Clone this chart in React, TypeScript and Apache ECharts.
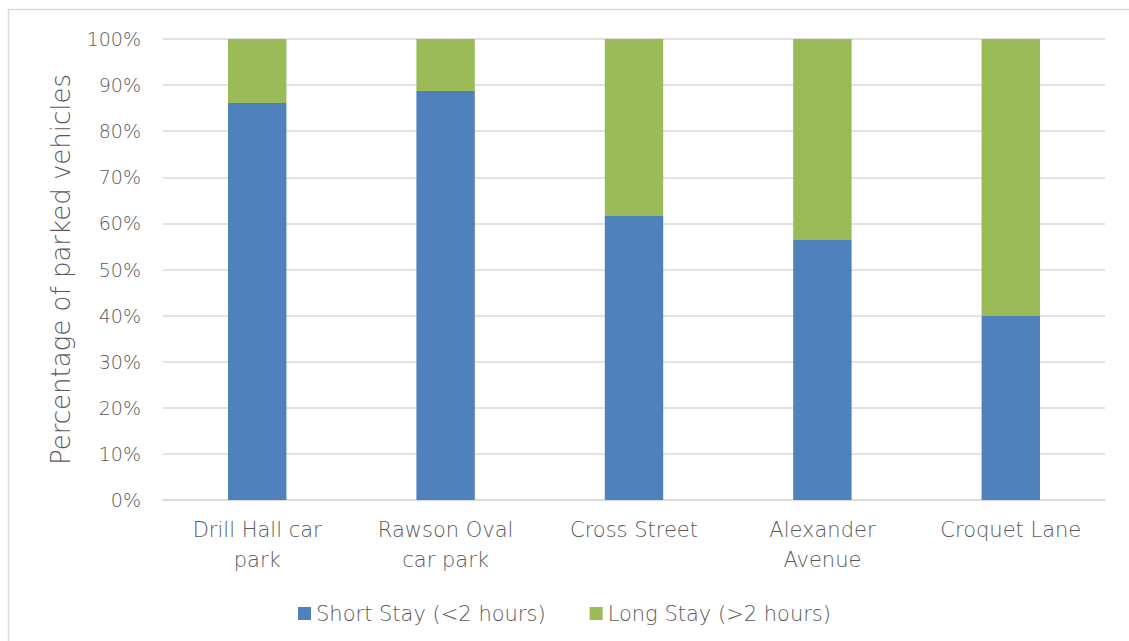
import React, { useEffect, useRef } from "react";
import * as echarts from "echarts";

const categories = ["Drill Hall car\npark", "Rawson Oval\ncar park", "Cross Street", "Alexander\nAvenue", "Croquet Lane"];
const shortStay = [86.1, 88.7, 61.6, 56.4, 39.9];
const longStay = [13.9, 11.3, 38.4, 43.6, 60.1];
const seriesNames = ["Short Stay (<2 hours)", "Long Stay (>2 hours)"];
const yAxisTitle = "Percentage of parked vehicles";

const FONT = "'DejaVu Sans', sans-serif";
const TEXT = "#595959";

export default function App() {
  const ref = useRef<HTMLDivElement>(null);
  useEffect(() => {
    if (!ref.current) return;
    const chart = echarts.init(ref.current, undefined, { renderer: "svg" });
    chart.setOption({
      animation: false,
      backgroundColor: "#ffffff",
      textStyle: { fontFamily: FONT },
      graphic: [
        {
          type: "rect",
          shape: { x: 8.5, y: 9.5, width: 1200, height: 700 },
          style: { fill: "none", stroke: "#d9d9d9", lineWidth: 1.5 },
          silent: true,
        },
      ],
      grid: { left: 163, right: 24, top: 39, bottom: 141 },
      legend: {
        data: seriesNames,
        top: 598,
        left: "center",
        itemWidth: 13,
        itemHeight: 13,
        itemGap: 44,
        icon: "rect",
        textStyle: { fontFamily: FONT, fontSize: 21, fontWeight: 300, color: TEXT },
      },
      xAxis: {
        type: "category",
        data: categories,
        axisLine: { lineStyle: { color: "#d9d9d9", width: 1.5 } },
        axisTick: { show: false },
        axisLabel: {
          fontFamily: FONT,
          fontSize: 21,
          fontWeight: 300,
          color: TEXT,
          lineHeight: 30,
          margin: 15,
          interval: 0,
        },
      },
      yAxis: {
        type: "value",
        min: 0,
        max: 100,
        interval: 10,
        name: yAxisTitle,
        nameLocation: "middle",
        nameGap: 89,
        nameTextStyle: { fontFamily: FONT, fontSize: 26, fontWeight: 300, color: TEXT },
        axisLine: { show: false },
        axisTick: { show: false },
        axisLabel: {
          fontFamily: FONT,
          fontSize: 19,
          fontWeight: 300,
          color: TEXT,
          margin: 22,
          formatter: "{value}%",
        },
        splitLine: { lineStyle: { color: "#d9d9d9", width: 1.5 } },
      },
      series: [
        {
          name: seriesNames[0],
          type: "bar",
          stack: "total",
          data: shortStay,
          barWidth: "31%",
          itemStyle: { color: "#4f81bd" },
        },
        {
          name: seriesNames[1],
          type: "bar",
          stack: "total",
          data: longStay,
          barWidth: "31%",
          itemStyle: { color: "#9bbb59" },
        },
      ],
    });
    return () => chart.dispose();
  }, []);
  return (
    <div
      ref={ref}
      style={{ position: "fixed", left: 0, top: 0, width: 1129, height: 641 }}
    />
  );
}
